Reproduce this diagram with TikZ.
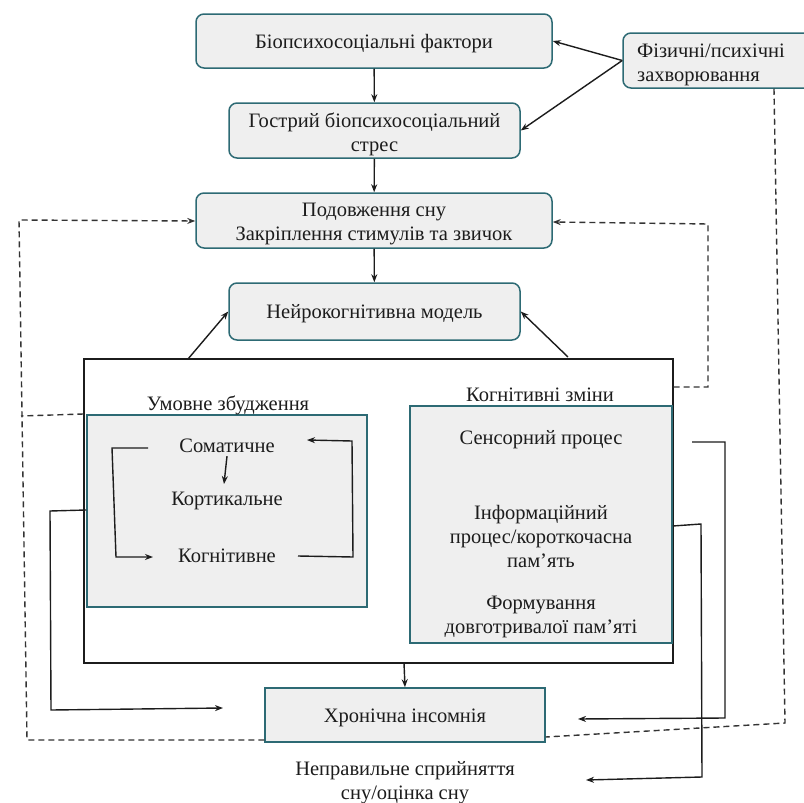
\documentclass[tikz,border=0pt]{standalone}
\usepackage{fontspec}
\setmainfont{Liberation Serif}
\newfontfamily\tnr{Liberation Serif}
\usetikzlibrary{arrows.meta,calc}
\definecolor{tealb}{HTML}{2D6A74}
\definecolor{boxfill}{HTML}{EFEFEF}
\definecolor{ink}{HTML}{1C1C1C}
\begin{document}
\begin{tikzpicture}[x=1pt,y=-1pt,
  rbox/.style={draw=tealb,line width=1.5pt,fill=boxfill,rounded corners=8pt,inner sep=0pt},
  sbox/.style={draw=tealb,line width=1.5pt,fill=boxfill,inner sep=0pt},
  lbl/.style={font=\tnr\fontsize{20.5}{24}\selectfont,align=center,inner sep=0pt,text=ink},
  conn/.style={draw=ink,line width=1.4pt},
  arr/.style={conn,-{Stealth[length=8pt,width=6pt]}},
  dsh/.style={draw=ink!90,line width=1.4pt,dash pattern=on 6pt off 4pt}]
\useasboundingbox (0,0) rectangle (804,803);
\clip (0,0) rectangle (804,803);
% top chain
\node[rbox,minimum width=356pt,minimum height=54pt] (b1) at (374,41) {};
\node[lbl] (b1t) at (374,44) {Біопсихосоціальні фактори};
\node[rbox,minimum width=291pt,minimum height=55pt] (b2) at (374.5,130.5) {};
\node[lbl] (b2t) at (374.5,134) {Гострий біопсихосоціальний\\стрес};
\node[rbox,minimum width=356pt,minimum height=55pt] (b3) at (374,220.5) {};
\node[lbl] (b3t) at (374,224) {Подовження сну\\Закріплення стимулів та звичок};
\node[rbox,minimum width=291pt,minimum height=57pt] (b4) at (374.5,311.5) {};
\node[lbl] (b4t) at (374.5,314) {Нейрокогнітивна модель};
\node[rbox,minimum width=210pt,minimum height=55pt] (ph) at (728,60.5) {};
\node[lbl,anchor=west,align=left] (pht) at (637,65) {Фізичні/психічні\\захворювання};
% outer frame
\node[draw=ink,line width=1.4pt,minimum width=589pt,minimum height=304pt,inner sep=0pt] (outer) at (378.5,511) {};
% left inner box
\node[sbox,minimum width=280pt,minimum height=192pt] (lb) at (227,511) {};
\node[lbl] (lbt) at (228,405) {Умовне збудження};
\node[lbl] (som) at (227,446) {Соматичне};
\node[lbl] (cor) at (227,501) {Кортикальне};
\node[lbl] (cog) at (227,556) {Когнітивне};
% right inner box
\node[sbox,minimum width=262pt,minimum height=237pt] (rb) at (541,524.5) {};
\node[lbl] (rbt) at (540,395) {Когнітивні зміни};
\node[lbl] (sen) at (541,440) {Сенсорний процес};
\node[lbl] (inf) at (541,536) {Інформаційний\\процес/короткочасна\\пам\char"2019ять};
\node[lbl] (frm) at (541,617) {Формування\\довготривалої пам\char"2019яті};
% bottom
\node[sbox,minimum width=280pt,minimum height=54pt] (chr) at (405,715) {};
\node[lbl] (chrt) at (405,718) {Хронічна інсомнія};
\node[lbl] (mis) at (405,783) {Неправильне сприйняття\\сну/оцінка сну};
% coordinates
\coordinate (oL) at (188,359);
\coordinate (oR) at (568,357);
\coordinate (oB) at (404,663);
\coordinate (lA) at (223,708);
\coordinate (sA) at (692,442);
\coordinate (sT) at (578,719);
\coordinate (iT) at (586,780);
\coordinate (sl1) at (148,448);
\coordinate (sl2) at (153,557);
\coordinate (sr1) at (298,556);
\coordinate (sr2) at (307,440);
% solid connectors
\draw[arr] (b1) -- (b2);
\draw[arr] (b2) -- (b3);
\draw[arr] (b3) -- (b4);
\draw[arr] (ph.west) -- (b1.east);
\draw[arr] (ph.west) -- (b2.east);
\draw[arr] (oL) -- (b4.west);
\draw[arr] (oR) -- (b4.east);
\draw[arr] (oB) -- (chr.north);
\draw[arr] (lb.west |- 0,510) -- (50,511) -- (51,710) -- (lA);
\draw[arr] (sA) -- (725,442) -- (725,718) -- (sT);
\draw[arr] (rb.east |- 0,526) -- (701,524) -- (702,777) -- (iT);
\draw[arr] (som.south) ++(0,3) -- (224,484);
\draw[arr] (sl1) -- (112,448) -- (116,557) -- (sl2);
\draw[arr] (sr1) -- (353,557) -- (352,441) -- (sr2);
% dashed connectors
\draw[dsh,-{Stealth[length=8pt,width=6pt]}] (outer.east |- 0,387) -- (708,387) -- (708,224) -- (b3.east |- 0,222);
\draw[dsh] (outer.west |- 0,414) -- (21,416);
\draw[dsh,-{Stealth[length=8pt,width=6pt]}] (chr.west |- 0,740) -- (27,740) -- (19,220) -- (b3.west |- 0,221);
\draw[dsh] (ph.south -| 0,0) ++(774,0) -- (785,723) -- (chr.east |- 0,737);
\end{tikzpicture}
\end{document}
